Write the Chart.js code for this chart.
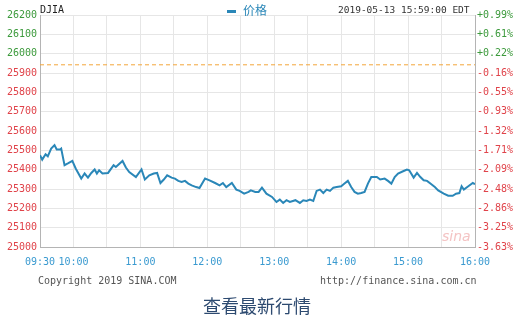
<!DOCTYPE html>
<html>
<head>
<meta charset="utf-8">
<script src="https://cdn.jsdelivr.net/npm/chart.js@4/dist/chart.umd.min.js"></script>
<style>
  body { margin: 0; background: #fff; }
  #wrap { position: relative; width: 516px; height: 316px; overflow: hidden; }
  .txt { position: absolute; white-space: nowrap; font-family: "DejaVu Sans Mono", monospace; font-size: 10px; line-height: 12px; }
</style>
</head>
<body>
<div id="wrap">
  <canvas id="djia" width="516" height="316"></canvas>
  <div class="txt" style="left:40px; top:4px; color:#222;">DJIA</div>
  <div class="txt" style="left:227px; top:3px; color:#2a87b8; font-family:'Noto Sans CJK SC'; font-size:12px; line-height:14px;"><span style="display:inline-block; width:9px; height:3px; background:#2a87b8; vertical-align:middle; margin-right:7px;"></span>价格</div>
  <div class="txt" style="left:338px; top:4px; color:#333; font-size:9.5px;">2019-05-13 15:59:00 EDT</div>
  <div class="txt" style="left:38px; top:275px; color:#555;">Copyright 2019 SINA.COM</div>
  <div class="txt" style="left:320px; top:275px; color:#555;">http://finance.sina.com.cn</div>
  <div class="txt" style="left:203px; top:294px; color:#2d4a70; font-family:'Noto Sans CJK SC'; font-size:18px; line-height:22px;">查看最新行情</div>
  <div class="txt" style="left:442px; top:228px; color:#f4c4c4; font-family:'DejaVu Sans'; font-style:italic; font-size:14px; line-height:16px;">sina</div>
</div>
<script>
// 분 단위 (09:30 기준)
const minutes = [0,2,5,7,10,13,15,18,19,22,25,29,32,37,40,43,46,49,51,53,56,61,66,68,74,77,80,86,91,94,
  98,102,105,108,111,114,118,121,124,127,130,133,136,140,143,148,152,157,161,164,167,172,176,179,183,187,189,193,196,199,
  203,208,212,215,218,221,224,229,233,236,239,242,245,248,251,254,257,260,263,266,270,273,276,279,282,285,288,291,294,297,
  302,305,309,312,315,318,321,326,329,331,335,338,341,344,347,350,354,357,362,366,370,373,376,378,380,384,388,390];
const prices = [25475,25452,25480,25469,25509,25527,25504,25504,25509,25423,25432,25445,25406,25354,25380,25359,25383,25401,25380,25397,
  25380,25383,25423,25414,25445,25411,25388,25362,25401,25349,25371,25380,25383,25331,25349,25371,25359,25354,25342,25336,
  25342,25328,25319,25310,25305,25354,25345,25331,25319,25331,25310,25331,25297,25290,25276,25285,25293,25285,25285,25307,
  25276,25259,25233,25245,25228,25242,25233,25242,25228,25242,25238,25245,25238,25290,25297,25279,25297,25290,25307,25310,
  25314,25328,25342,25310,25285,25276,25279,25285,25328,25362,25362,25349,25354,25342,25328,25362,25380,25393,25401,25397,
  25359,25383,25362,25345,25342,25328,25310,25293,25276,25265,25265,25276,25279,25314,25297,25314,25331,25325];
const prevClose = 25942.37;

// x축 라벨
const timeTicks = [0, 30, 90, 150, 210, 270, 330, 390];
const timeLabels = ['09:30', '10:00', '11:00', '12:00', '13:00', '14:00', '15:00', '16:00'];
// y축 라벨
const priceTicks = [25000, 25100, 25200, 25300, 25400, 25500, 25600, 25700, 25800, 25900, 26000, 26100, 26200];
const pctLabels = ['-3.63%', '-3.25%', '-2.86%', '-2.48%', '-2.09%', '-1.71%', '-1.32%', '-0.93%', '-0.55%', '-0.16%', '+0.22%', '+0.61%', '+0.99%'];

const green = '#3c9a3c';
const red = '#e0434a';
const tickFont = { family: 'DejaVu Sans Mono', size: 10 };
const upDown = (ctx) => ctx.tick.value > prevClose ? green : red;

new Chart(document.getElementById('djia'), {
  type: 'line',
  data: {
    datasets: [{
      label: '价格',
      data: minutes.map((m, i) => ({ x: m, y: prices[i] })),
      borderColor: '#2a87b8',
      borderWidth: 2,
      pointRadius: 0,
      tension: 0,
      yAxisID: 'y'
    }, {
      label: 'prev',
      data: [{ x: 0, y: prevClose }, { x: 390, y: prevClose }],
      borderColor: '#f3a53a',
      borderWidth: 1,
      borderDash: [4, 3],
      pointRadius: 0,
      yAxisID: 'y'
    }]
  },
  options: {
    responsive: false,
    animation: false,
    layout: { padding: { top: 15, left: 0, right: 0, bottom: 0 } },
    plugins: { legend: { display: false }, tooltip: { enabled: false } },
    scales: {
      x: {
        type: 'linear',
        min: 0,
        max: 390,
        afterBuildTicks: (s) => { s.ticks = []; for (let v = 0; v <= 390; v += 30) s.ticks.push({ value: v }); },
        afterFit: (s) => { s.height = 69; },
        ticks: {
          autoSkip: false,
          maxRotation: 0,
          padding: 9,
          color: '#3a9ad0',
          font: tickFont,
          callback: (v) => { const i = timeTicks.indexOf(v); return i >= 0 ? timeLabels[i] : ''; }
        },
        grid: { color: '#e6e6e6', drawTicks: false },
        border: { color: '#b4b4b4' }
      },
      y: {
        position: 'left',
        min: 25000,
        max: 26200,
        afterBuildTicks: (s) => { s.ticks = priceTicks.map(v => ({ value: v })); },
        afterFit: (s) => { s.width = 40; },
        ticks: { padding: 3, color: upDown, font: tickFont, callback: (v) => String(v) },
        grid: { color: '#e6e6e6', drawTicks: false },
        border: { color: '#b4b4b4' }
      },
      y2: {
        position: 'right',
        min: 25000,
        max: 26200,
        afterBuildTicks: (s) => { s.ticks = priceTicks.map(v => ({ value: v })); },
        afterFit: (s) => { s.width = 41; },
        ticks: {
          padding: 2,
          color: upDown,
          font: tickFont,
          callback: (v) => pctLabels[priceTicks.indexOf(v)]
        },
        grid: { display: false, drawTicks: false },
        border: { color: '#b4b4b4' }
      }
    }
  }
});
</script>
</body>
</html>
